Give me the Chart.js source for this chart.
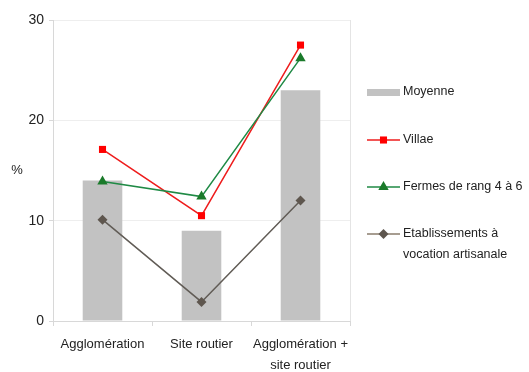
<!DOCTYPE html>
<html>
<head>
    <meta charset="utf-8">
    <title>Moyenne par type de site</title>
    <style>
        body { margin: 0; background: #fff; }
        .wrap { position: relative; width: 529px; height: 372px; }
    </style>
</head>
<body>
    <div class="wrap">
        <canvas id="chart" width="529" height="372"></canvas>
    </div>

    <script src="https://cdn.jsdelivr.net/npm/chart.js"></script>
    <script>
        const categories = [['Agglomération'], ['Site routier'], ['Agglomération +', 'site routier']];
        const moyenne = [14, 9, 23];
        const villae = [17.1, 10.5, 27.5];
        const fermes = [13.9, 12.4, 26.2];
        const etablissements = [10.1, 1.9, 12.0];
        const seriesNames = ['Moyenne', 'Villae', 'Fermes de rang 4 à 6', ['Etablissements à', 'vocation artisanale']];
        const yTicks = [0, 10, 20, 30];

        const fontFamily = '"Liberation Sans", Arial, sans-serif';
        Chart.defaults.font = { family: fontFamily, size: 12.5 };
        Chart.defaults.color = '#222';

        // legend drawn on the right, like the original spreadsheet export
        const sideLegend = {
            id: 'sideLegend',
            afterDraw(chart) {
                const ctx = chart.ctx;
                const rows = [92, 140, 187, 234];
                const x0 = 367, x1 = 400;
                ctx.save();
                chart.data.datasets.forEach((ds, i) => {
                    const y = rows[i];
                    if (ds.type === 'line') {
                        ctx.strokeStyle = i === 3 ? '#8a7c6c' : ds.borderColor;
                        ctx.lineWidth = 1.5;
                        ctx.beginPath();
                        ctx.moveTo(x0, y);
                        ctx.lineTo(x1, y);
                        ctx.stroke();
                        ctx.fillStyle = ds.pointBackgroundColor;
                        Chart.helpers.drawPoint(ctx, {
                            pointStyle: ds.pointStyle,
                            radius: ds.pointRadius,
                            rotation: 0,
                            borderWidth: 0
                        }, (x0 + x1) / 2, y);
                    } else {
                        ctx.fillStyle = ds.backgroundColor;
                        ctx.fillRect(x0, y - 3, x1 - x0, 7);
                    }
                    ctx.fillStyle = '#222';
                    ctx.font = '12.5px ' + fontFamily;
                    ctx.textBaseline = 'middle';
                    const lines = Array.isArray(ds.label) ? ds.label : [ds.label];
                    lines.forEach((t, k) => ctx.fillText(t, x1 + 3, y + k * 21));
                });
                // upright "%" axis title
                ctx.font = '13px ' + fontFamily;
                ctx.textAlign = 'center';
                ctx.fillText('%', 17, 170);
                // light frame on the right of the plot
                const a = chart.chartArea;
                ctx.strokeStyle = '#e4e4e4';
                ctx.lineWidth = 1;
                ctx.beginPath();
                ctx.moveTo(a.right + 0.5, a.top);
                ctx.lineTo(a.right + 0.5, a.bottom);
                ctx.stroke();
                ctx.restore();
            }
        };

        const ctx = document.getElementById('chart').getContext('2d');
        const chart = new Chart(ctx, {
            data: {
                labels: categories,
                datasets: [
                    {
                        type: 'bar',
                        label: seriesNames[0],
                        data: moyenne,
                        backgroundColor: '#c2c2c2',
                        barPercentage: 0.8,
                        categoryPercentage: 0.5,
                        order: 5
                    },
                    {
                        type: 'line',
                        label: seriesNames[1],
                        data: villae,
                        borderColor: '#ee1c1c',
                        borderWidth: 1.5,
                        pointStyle: 'rect',
                        pointRadius: 5,
                        pointBackgroundColor: '#ff0000',
                        pointBorderWidth: 0,
                        order: 2
                    },
                    {
                        type: 'line',
                        label: seriesNames[2],
                        data: fermes,
                        borderColor: '#1f8a45',
                        borderWidth: 1.5,
                        pointStyle: 'triangle',
                        pointRadius: 6,
                        pointBackgroundColor: '#1a7a2a',
                        pointBorderWidth: 0,
                        order: 1
                    },
                    {
                        type: 'line',
                        label: seriesNames[3],
                        data: etablissements,
                        borderColor: '#615c56',
                        borderWidth: 1.5,
                        pointStyle: 'rectRot',
                        pointRadius: 5,
                        pointBackgroundColor: '#5e564e',
                        pointBorderWidth: 0,
                        order: 0
                    }
                ]
            },
            options: {
                responsive: false,
                animation: false,
                layout: { padding: { top: 20, right: 179, bottom: 0, left: 0 } },
                plugins: {
                    legend: { display: false },
                    tooltip: { enabled: false }
                },
                scales: {
                    x: {
                        grid: {
                            offset: true,
                            drawOnChartArea: false,
                            color: '#d8d8d8',
                            tickLength: 5
                        },
                        border: { color: '#d8d8d8' },
                        ticks: { maxRotation: 0, autoSkip: false, padding: 8, font: { size: 13, lineHeight: 1.6 } },
                        afterFit(scale) { scale.height = 51; }
                    },
                    y: {
                        min: 0,
                        max: 30,
                        afterBuildTicks(scale) { scale.ticks = yTicks.map(v => ({ value: v })); },
                        grid: { color: '#eeeeee', tickLength: 4, tickColor: '#d8d8d8' },
                        border: { color: '#d8d8d8' },
                        ticks: { padding: 5, font: { size: 14 } },
                        afterFit(scale) { scale.width = 53; }
                    }
                }
            },
            plugins: [sideLegend]
        });
    </script>
</body>
</html>
